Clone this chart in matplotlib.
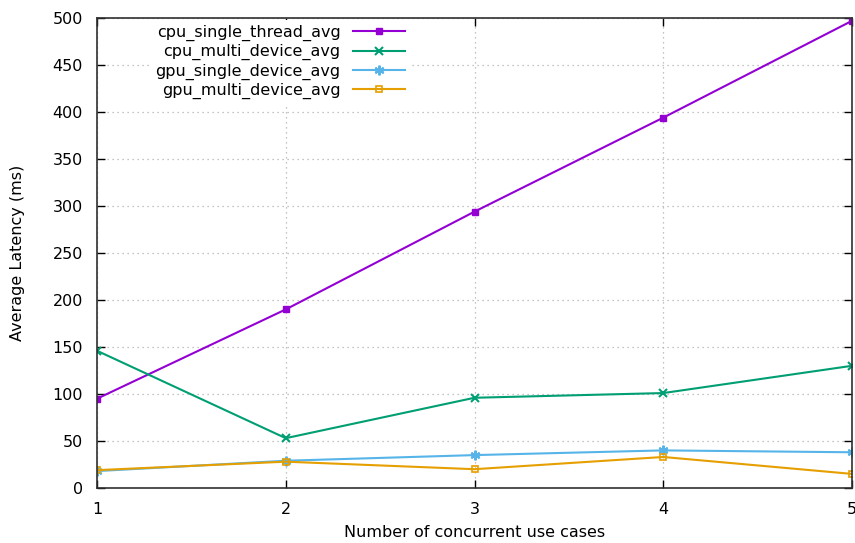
import matplotlib
matplotlib.use("Agg")
import matplotlib.pyplot as plt

# Data
use_cases = [1, 2, 3, 4, 5]
cpu_single_thread_avg = [95, 190, 294, 394, 497]
cpu_multi_device_avg = [146, 53, 96, 101, 130]
gpu_single_device_avg = [18, 29, 35, 40, 38]
gpu_multi_device_avg = [19, 28, 20, 33, 15]

plt.rcParams['font.family'] = ['DejaVu Sans']
plt.rcParams['font.size'] = 11.5

fig = plt.figure(figsize=(8.55, 5.43), dpi=100)
ax = fig.add_axes([97 / 855, 1 - 488 / 543, (852 - 97) / 855, (488 - 18) / 543])

ax.plot(use_cases, cpu_single_thread_avg, color="#9400d3", marker="s", ms=5,
        lw=1.5, label="cpu_single_thread_avg")
ax.plot(use_cases, cpu_multi_device_avg, color="#009e73", marker="x", ms=6, mew=1.5,
        lw=1.5, label="cpu_multi_device_avg")
ax.plot(use_cases, gpu_single_device_avg, color="#56b4e9", marker=(6, 2, 0), ms=7, mew=1.5,
        lw=1.5, label="gpu_single_device_avg")
ax.plot(use_cases, gpu_multi_device_avg, color="#e69f00", marker="s", ms=5, mfc="none",
        mew=1.2, lw=1.5, label="gpu_multi_device_avg")

ax.set_xlim(1, 5)
ax.set_ylim(0, 500)
ax.set_xticks(use_cases)
ax.set_yticks(range(0, 501, 50))
ax.grid(True, color="#b0b0b0", linestyle=(0, (1, 3)), lw=0.9)
ax.tick_params(direction="in", top=True, right=True, length=6, width=1)
ax.tick_params(axis="y", pad=10)
ax.tick_params(axis="x", pad=10)
for s in ax.spines.values():
    s.set_linewidth(1.2)
    s.set_color("#303030")

ax.set_xlabel("Number of concurrent use cases", labelpad=6)
ax.set_ylabel("Average Latency (ms)", labelpad=20)

leg = ax.legend(loc="upper right", bbox_to_anchor=(418 / 855, 1 - 12 / 543),
                bbox_transform=fig.transFigure, markerfirst=False,
                frameon=True, fancybox=False, edgecolor="none", facecolor="white",
                framealpha=1, handlelength=3.25, handletextpad=0.8,
                labelspacing=0.2, borderpad=0.3)
for t in leg.get_texts():
    t.set_ha("right")
leg._legend_box.align = "right"

fig.savefig("out.png", dpi=100)
